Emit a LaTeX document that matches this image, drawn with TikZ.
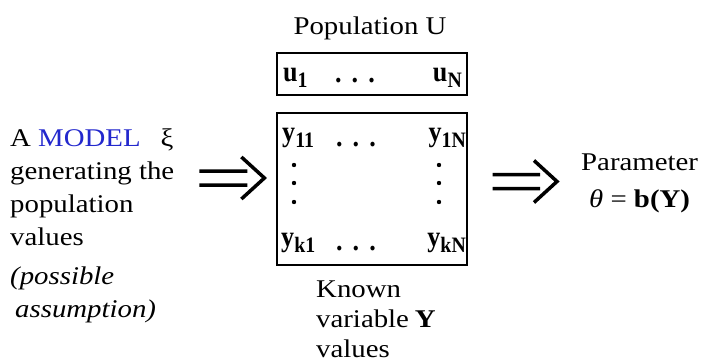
\documentclass[tikz,border=0pt]{standalone}
\usepackage{fontspec}
\setmainfont{Liberation Serif}[FakeStretch=1.13]
\newfontfamily\cellfont{Liberation Serif}[FakeStretch=0.9]
\usetikzlibrary{calc,positioning}

\definecolor{modelblue}{RGB}{35,40,205}
\newcommand{\cellsub}[1]{\raisebox{-6pt}{\fontsize{22}{22}\selectfont #1}}

\begin{document}
\begin{tikzpicture}[x=1pt,y=-1pt,
  every node/.style={inner sep=0pt},
  txt/.style={font=\fontsize{25.5}{33}\selectfont},
  cell/.style={font=\fontsize{29}{33}\cellfont\bfseries},
  cellbox/.style={draw, line width=1.2pt, minimum width=190pt},
  implies/.style={line width=3.5pt, to path={
      ($(\tikztostart)+(0pt,7pt)$) -- ($(\tikztotarget)+(-17pt,7pt)$)
      ($(\tikztostart)+(0pt,-7pt)$) -- ($(\tikztotarget)+(-17pt,-7pt)$)
      ($(\tikztotarget)+(-23pt,21pt)$) -- (\tikztotarget) -- ($(\tikztotarget)+(-23pt,-21pt)$)}}]

\useasboundingbox (0,0) rectangle (705,362);

% Population
\node[txt, anchor=base] (poptitle) at (370,34) {Population U};

% Units
\node[cellbox, minimum height=42pt] (ubox) at (372,74) {};
\node[cell, anchor=base west] (u1) at (283,81) {u\cellsub{1}};
\node[cell, anchor=base] (udots) at (355,82) {.\hspace{10pt}.\hspace{10pt}.};
\node[cell, anchor=base east] (uN) at (462,81) {u\cellsub{N}};

% Values of the variables
\node[cellbox, minimum height=152pt] (ybox) at (372,189) {};
\node[cell, anchor=base west] (y11) at (282,141) {y\cellsub{11}};
\node[cell, anchor=base] (ydots1) at (356,146) {.\hspace{10pt}.\hspace{10pt}.};
\node[cell, anchor=base east] (y1N) at (466,141) {y\cellsub{1N}};
\node[cell, anchor=base west] (yk1) at (281,246) {y\cellsub{k1}};
\node[cell, anchor=base] (ydotsk) at (356,250) {.\hspace{10pt}.\hspace{10pt}.};
\node[cell, anchor=base east] (ykN) at (466,246) {y\cellsub{kN}};

% Column dots
\foreach \yy in {165,183,202} {
  \fill (294,\yy) circle (2.2pt);
  \fill (439,\yy) circle (2.2pt);
}

% Labels
\node[txt, anchor=north west, align=left] (model) at (10,128)
  {A \textcolor{modelblue}{MODEL}\hspace{20pt}ξ\\ generating the\\ population\\ values\\[6pt]
   \textit{(possible}\\ \hspace*{5pt}\textit{assumption)}};
\node[txt, anchor=north west, align=left, font=\fontsize{25.5}{30}\selectfont] (known) at (316,281)
  {Known\\ variable\hspace{6pt}\textbf{Y}\\ values};
\node[txt, anchor=north west, align=center, font=\fontsize{25.5}{37}\selectfont] (param) at (581,154)
  {Parameter\\ \textit{θ} = \textbf{b(Y)}};

% Arrows
\draw[implies] ($(model.east |- ybox.west)+(25pt,11pt)$) to ($(ybox.west)+(-12pt,11pt)$);
\draw[implies] ($(ybox.east)+(25pt,7.5pt)$) to ($(param.west |- ybox.east)+(-24pt,7.5pt)$);

\end{tikzpicture}
\end{document}
